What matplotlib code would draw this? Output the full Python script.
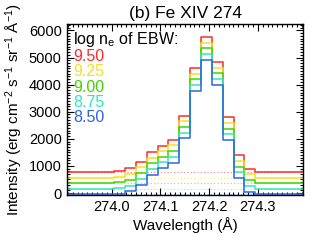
import matplotlib
matplotlib.use("Agg")
import matplotlib.pyplot as plt
from matplotlib.ticker import MultipleLocator, FixedLocator

plt.rcParams['font.family'] = ['Liberation Sans', 'DejaVu Sans']
plt.rcParams['mathtext.fontset'] = 'custom'
plt.rcParams['mathtext.rm'] = 'Liberation Sans'
plt.rcParams['mathtext.it'] = 'Liberation Sans:italic'
plt.rcParams['mathtext.default'] = 'regular'

# ---- data ----
wavelength = [273.9047, 273.9270, 273.9493, 273.9716, 273.9939, 274.0162,
              274.0385, 274.0607, 274.0830, 274.1053, 274.1276, 274.1500,
              274.1723, 274.1946, 274.2169, 274.2392, 274.2615, 274.2838,
              274.3061, 274.3284, 274.3507, 274.3730, 274.3953, 274.4176]

int_950 = [764, 764, 764, 764, 764, 800, 911, 1160, 1502, 1745, 1956, 2852,
           4601, 5745, 4834, 2793, 1402, 886, 764, 764, 764, 764, 764, 764]
int_925 = [565, 565, 565, 565, 565, 601, 701, 948, 1280, 1561, 1771, 2657,
           4391, 5546, 4624, 2572, 1192, 690, 565, 565, 565, 565, 565, 565]
int_900 = [358, 358, 358, 358, 358, 395, 480, 727, 1096, 1340, 1550, 2446,
           4195, 5339, 4417, 2362, 970, 480, 358, 358, 358, 358, 358, 358]
int_875 = [148, 148, 148, 148, 148, 173, 270, 506, 886, 1155, 1340, 2225,
           3985, 5129, 4207, 2166, 764, 270, 148, 148, 148, 148, 148, 148]
int_850 = [-50, -50, -50, -50, -50, -40, 74, 295, 664, 911, 1118, 2018,
           3764, 4908, 3985, 1956, 542, 48, -50, -50, -50, -50, -50, -50]

continuum = [764, 565, 358, 148, -50]
labels = ['9.50', '9.25', '9.00', '8.75', '8.50']
colors = ['#ff2a2a', '#f2e21c', '#3fd400', '#30e8b8', '#2a64e6']
series = [int_950, int_925, int_900, int_875, int_850]

xticks = [274.0, 274.1, 274.2, 274.3]
yticks = [0, 1000, 2000, 3000, 4000, 5000, 6000]

# ---- figure ----
fig = plt.figure(figsize=(3.27, 2.46), dpi=100)
ax = fig.add_axes([0.2058, 0.2085, 0.7208, 0.6939])

for vals, c, cont in zip(series, colors, continuum):
    ax.axhline(cont, color=c, lw=0.8, ls=(0, (1, 2)), alpha=0.6)
    ax.step(wavelength, vals, where='mid', color=c, lw=1.1)

ax.set_xlim(273.9088, 274.3928)
ax.set_ylim(-63, 6236)

ax.xaxis.set_major_locator(FixedLocator(xticks))
ax.set_xticklabels(['%.1f' % v for v in xticks])
ax.xaxis.set_minor_locator(MultipleLocator(0.01))
ax.yaxis.set_major_locator(FixedLocator(yticks))
ax.set_yticklabels(['%d' % v for v in yticks])
ax.yaxis.set_minor_locator(MultipleLocator(100))

ax.tick_params(which='both', direction='in', top=True, right=True,
               labelsize=10.5, colors='black', width=0.8)
ax.tick_params(which='major', length=5, pad=4)
ax.tick_params(which='minor', length=2.5)
for s in ax.spines.values():
    s.set_linewidth(1.0)

ax.set_xlabel('Wavelength (Å)', fontsize=11, labelpad=2)
ax.set_ylabel('Intensity (erg cm$^{-2}$ s$^{-1}$ sr$^{-1}$ Å$^{-1}$)',
              fontsize=11, labelpad=3)
ax.set_title('(b) Fe XIV 274', fontsize=12.5, pad=4)

ax.text(0.024, 0.908, 'log n$_{e}$ of EBW:', transform=ax.transAxes,
        fontsize=11.5, va='center', ha='left', color='black')
ypos = [0.810, 0.7207, 0.6307, 0.5407, 0.4507]
for lab, c, yp in zip(labels, colors, ypos):
    ax.text(0.024, yp, lab, transform=ax.transAxes, fontsize=11.5,
            va='center', ha='left', color=c)

fig.savefig('out.png', dpi=100)
